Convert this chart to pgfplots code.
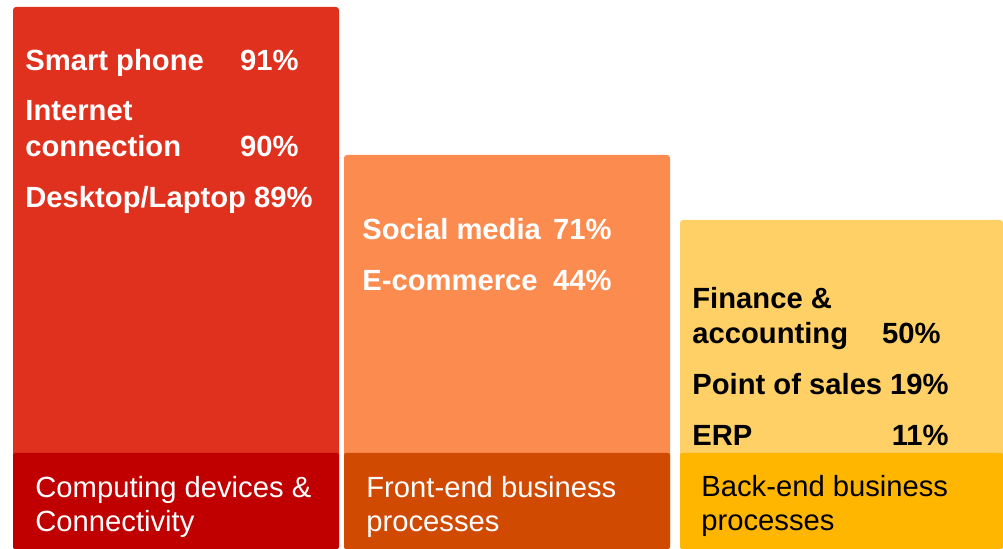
\documentclass[border=0pt]{standalone}
\usepackage{pgfplots}
\pgfplotsset{compat=1.18}
\usepackage{fontspec}
\setmainfont{Liberation Sans}

\definecolor{barA}{HTML}{E0301E}
\definecolor{barB}{HTML}{FC8B4F}
\definecolor{barC}{HTML}{FFD066}
\definecolor{baseA}{HTML}{C00000}
\definecolor{baseB}{HTML}{D04A02}
\definecolor{baseC}{HTML}{FFB600}

% 1 unit = 1 px of the reference, y measured from the bottom
\newcommand{\lbl}{\fontsize{14.6pt}{17pt}\selectfont\bfseries}
\newcommand{\cat}{\fontsize{14.6pt}{17pt}\selectfont}

\begin{document}
\begin{tikzpicture}
\begin{axis}[
  width=501.5pt, height=274.5pt, scale only axis,
  xmin=0, xmax=1003, ymin=0, ymax=549,
  hide axis, clip=false]
% keep the full canvas in the bounding box
\addplot[draw=white, line width=0.01pt, forget plot] coordinates {(0,0)(0,549)(1003,549)};
% upper bars
\addplot[fill=barA, draw=none, rounded corners=1.5pt] coordinates {(13,0)(13,542)(339,542)(339,0)} -- cycle;
\addplot[fill=barB, draw=none, rounded corners=1.5pt] coordinates {(344,0)(344,394)(670,394)(670,0)} -- cycle;
\addplot[fill=barC, draw=none, rounded corners=1.5pt] coordinates {(680,0)(680,329)(1003,329)(1003,0)} -- cycle;
% base blocks
\addplot[fill=baseA, draw=none, rounded corners=1pt] coordinates {(13,0)(13,96)(339,96)(339,0)} -- cycle;
\addplot[fill=baseB, draw=none, rounded corners=1pt] coordinates {(344,0)(344,96)(670,96)(670,0)} -- cycle;
\addplot[fill=baseC, draw=none, rounded corners=1pt] coordinates {(680,0)(680,96)(1003,96)(1003,0)} -- cycle;

% bar 1 labels
\begin{scope}[every node/.style={text=white, inner sep=0pt, font=\lbl}]
\node[anchor=base west] at (axis cs:25,478) {Smart phone};
\node[anchor=base east] at (axis cs:299,478) {91\%};
\node[anchor=base west] at (axis cs:25,428) {Internet};
\node[anchor=base west] at (axis cs:25,392) {connection};
\node[anchor=base east] at (axis cs:299,392) {90\%};
\node[anchor=base west] at (axis cs:25,341) {Desktop/Laptop};
\node[anchor=base east] at (axis cs:313,341) {89\%};
% bar 2 labels
\node[anchor=base west] at (axis cs:362,309) {Social media};
\node[anchor=base east] at (axis cs:612,309) {71\%};
\node[anchor=base west] at (axis cs:362,258) {E-commerce};
\node[anchor=base east] at (axis cs:612,258) {44\%};
\end{scope}
% bar 3 labels
\begin{scope}[every node/.style={text=black, inner sep=0pt, font=\lbl}]
\node[anchor=base west] at (axis cs:692,240) {Finance \&};
\node[anchor=base west] at (axis cs:692,205) {accounting};
\node[anchor=base east] at (axis cs:941,205) {50\%};
\node[anchor=base west] at (axis cs:692,154) {Point of sales};
\node[anchor=base east] at (axis cs:949,154) {19\%};
\node[anchor=base west] at (axis cs:692,103) {ERP};
\node[anchor=base east] at (axis cs:949,103) {11\%};
\end{scope}
% category labels
\begin{scope}[every node/.style={inner sep=0pt, font=\cat}]
\node[text=white, anchor=base west] at (axis cs:35,51) {Computing devices \&};
\node[text=white, anchor=base west] at (axis cs:35,17) {Connectivity};
\node[text=white, anchor=base west] at (axis cs:366,51) {Front-end business};
\node[text=white, anchor=base west] at (axis cs:366,17) {processes};
\node[text=black, anchor=base west] at (axis cs:701,52) {Back-end business};
\node[text=black, anchor=base west] at (axis cs:701,18) {processes};
\end{scope}
\end{axis}
\end{tikzpicture}
\end{document}
